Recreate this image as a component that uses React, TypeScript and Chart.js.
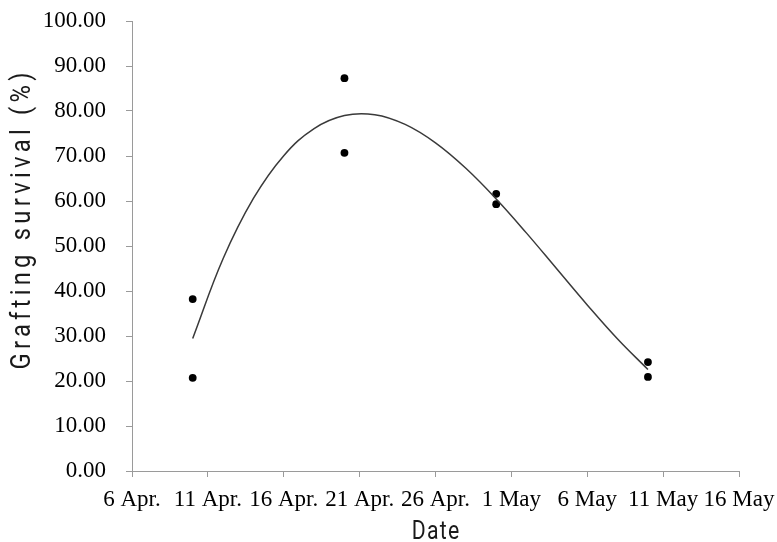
import React, { useEffect, useRef } from "react";
import { Chart, registerables } from "chart.js";

Chart.register(...registerables);

// Tick labels for the date axis (one every 5 days starting 6 Apr.)
const dateTickLabels = ["6 Apr.", "11 Apr.", "16 Apr.", "21 Apr.", "26 Apr.", "1 May", "6 May", "11 May", "16 May"];
// Observed grafting survival (days after 6 Apr.)
const sampleDays = [4, 4, 14, 14, 24, 24, 34, 34];
const survivalValues = [38.2, 20.7, 87.3, 70.7, 61.6, 59.3, 24.2, 20.9];
// Fitted trend curve
const trendDays = [4, 6, 8, 10, 12, 14, 16, 18, 20, 22, 24, 26, 28, 30, 32, 34];
const trendValues = [29.45, 47.15, 60.56, 70.08, 76.1, 79.0, 79.18, 77.02, 72.92, 67.27, 60.45, 52.86, 44.88, 36.91, 29.34, 22.55];

const yTitle = "Grafting survival (%)";
const xTitle = "Date";

const titlePlugin = {
  id: "spacedTitles",
  afterDraw(chart: any) {
    const ctx = chart.ctx as CanvasRenderingContext2D;
    const area = chart.chartArea;
    ctx.save();
    ctx.fillStyle = "#1a1a1a";
    (ctx as any).letterSpacing = "5px";
    ctx.font = '28px Roboto, "Liberation Sans", sans-serif';
    ctx.textAlign = "center";
    ctx.textBaseline = "middle";
    ctx.translate(23, 221);
    ctx.rotate(-Math.PI / 2);
    ctx.scale(0.85, 1);
    ctx.fillText(yTitle, 2.5, 0);
    ctx.restore();

    ctx.save();
    ctx.fillStyle = "#1a1a1a";
    (ctx as any).letterSpacing = "1.5px";
    ctx.font = '25px Roboto, "Liberation Sans", sans-serif';
    ctx.textAlign = "center";
    ctx.textBaseline = "middle";
    ctx.translate((area.left + area.right) / 2, 533);
    ctx.scale(0.85, 1);
    ctx.fillText(xTitle, 0.75, 0);
    ctx.restore();
  },
};

export default function App() {
  const canvasRef = useRef<HTMLCanvasElement | null>(null);

  useEffect(() => {
    if (!canvasRef.current) return;
    const tickFont = { family: '"Liberation Serif", "Times New Roman", serif', size: 23 };
    const axisGrid = {
      display: true,
      drawOnChartArea: false,
      drawTicks: true,
      tickLength: 6,
      color: "#9a9a9a",
      tickColor: "#9a9a9a",
    };
    const chart = new Chart(canvasRef.current, {
      type: "scatter",
      data: {
        datasets: [
          {
            type: "line",
            label: "Trend",
            data: trendDays.map((d, i) => ({ x: d, y: trendValues[i] })),
            borderColor: "#3a3a3a",
            borderWidth: 1.5,
            pointRadius: 0,
            tension: 0.4,
            fill: false,
          } as any,
          {
            type: "scatter",
            label: "Survival",
            data: sampleDays.map((d, i) => ({ x: d, y: survivalValues[i] })),
            backgroundColor: "#000",
            borderColor: "#000",
            pointRadius: 3.9,
            borderWidth: 0,
          },
        ],
      },
      options: {
        responsive: true,
        maintainAspectRatio: false,
        animation: false,
        layout: { padding: { top: 21, right: 38, left: 0, bottom: 0 } },
        plugins: { legend: { display: false }, tooltip: { enabled: false } },
        scales: {
          x: {
            type: "linear",
            min: 0,
            max: 40,
            ticks: {
              stepSize: 5,
              autoSkip: false,
              maxRotation: 0,
              padding: 9,
              color: "#000",
              font: tickFont,
              callback: (v: any) => dateTickLabels[Math.round(Number(v) / 5)] ?? "",
            },
            grid: axisGrid,
            border: { display: true, color: "#9a9a9a", width: 1 },
            afterFit: (s: any) => {
              s.height = 71;
              s.paddingLeft = 0;
              s.paddingRight = 0;
            },
          },
          y: {
            min: 0,
            max: 100,
            ticks: {
              stepSize: 10,
              padding: 20,
              color: "#000",
              font: tickFont,
              callback: (v: any) => Number(v).toFixed(2),
            },
            grid: axisGrid,
            border: { display: true, color: "#9a9a9a", width: 1 },
            afterFit: (s: any) => {
              s.width = 132;
              s.paddingTop = 0;
              s.paddingBottom = 0;
            },
          },
        },
      },
      plugins: [titlePlugin],
    });
    return () => chart.destroy();
  }, []);

  return (
    <div style={{ position: "fixed", left: 0, top: 0, width: 777, height: 542, background: "#fff" }}>
      <canvas ref={canvasRef} style={{ display: "block" }} />
    </div>
  );
}
